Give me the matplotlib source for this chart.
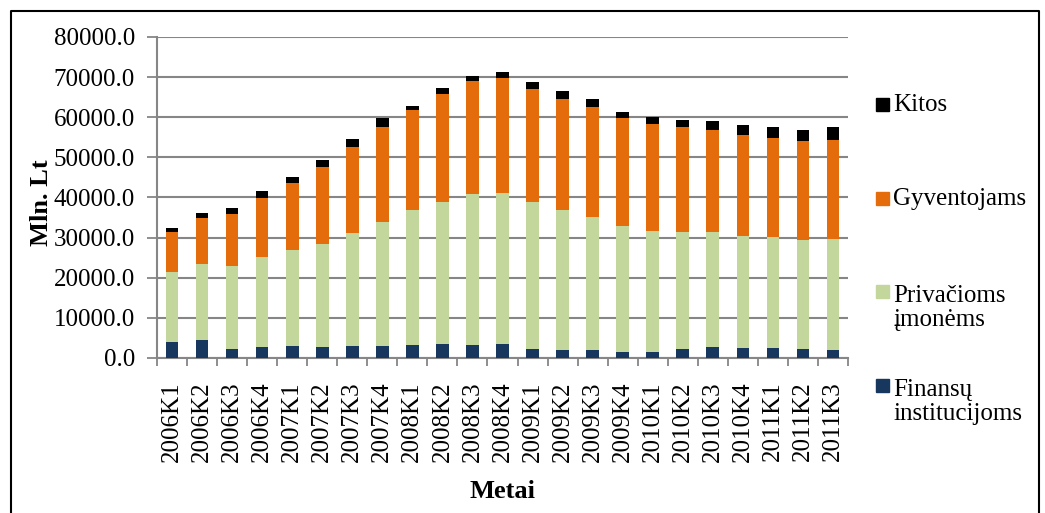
import matplotlib
matplotlib.use("Agg")
import matplotlib.pyplot as plt
from matplotlib.patches import Rectangle
from matplotlib.lines import Line2D
import numpy as np

plt.rcParams['font.family'] = ['Liberation Serif', 'DejaVu Serif']

categories = ["2006K1", "2006K2", "2006K3", "2006K4", "2007K1", "2007K2", "2007K3", "2007K4",
              "2008K1", "2008K2", "2008K3", "2008K4", "2009K1", "2009K2", "2009K3", "2009K4",
              "2010K1", "2010K2", "2010K3", "2010K4", "2011K1", "2011K2", "2011K3"]

finansu = [4000, 4500, 2250, 2750, 3000, 2750, 3000, 3000, 3250, 3500, 3250, 3580,
           2250, 2080, 2080, 1580, 1580, 2250, 2750, 2580, 2500, 2250, 2080]
privacioms = [17500, 19000, 20650, 22500, 23900, 25750, 28080, 31000, 33580, 35500, 37580, 37500,
              36580, 34750, 33000, 31250, 30170, 29250, 28580, 27920, 27670, 27080, 27500]
gyventojams = [9830, 11500, 13100, 14650, 16600, 19000, 21590, 23580, 25000, 26750, 28250, 28670,
               28250, 27840, 27500, 26920, 26500, 26170, 25590, 25080, 24750, 24670, 24670]
kitos = [1170, 1250, 1330, 1680, 1580, 1830, 1910, 2250, 1090, 1420, 1170, 1580,
         1750, 1910, 1920, 1670, 1750, 1660, 2080, 2590, 2580, 2750, 3250]

series = [("Finansų\ninstitucijoms", finansu, "#17375E"),
          ("Privačioms\nįmonėms", privacioms, "#C3D69B"),
          ("Gyventojams", gyventojams, "#E46C0A"),
          ("Kitos", kitos, "#000000")]

W, H = 1045, 513
fig = plt.figure(figsize=(W / 100, H / 100), dpi=100)
ax = fig.add_axes([157 / W, 1 - 358 / H, (848 - 157) / W, (358 - 37) / H])

x = np.arange(len(categories))
bottom = np.zeros(len(categories))
for name, vals, col in series:
    ax.bar(x, vals, width=0.42, bottom=bottom, color=col, label=name, zorder=3)
    bottom += np.array(vals)

ax.set_xlim(-0.5, len(categories) - 0.5)
ax.set_ylim(0, 80000)
yt = np.arange(0, 80001, 10000)
ax.set_yticks(yt)
ax.set_yticklabels([f"{v:.1f}" for v in yt], fontsize=18)
ax.yaxis.grid(True, color="#868686", linewidth=1.5, zorder=0)
ax.set_axisbelow(True)

ax.set_xticks(x)
ax.set_xticklabels(categories, rotation=90, fontsize=18)
ax.set_xticks(np.arange(-0.5, len(categories), 1), minor=True)
ax.tick_params(axis='x', which='major', length=0, pad=17)
ax.tick_params(axis='x', which='minor', length=6, color="#868686", width=1.3)
ax.tick_params(axis='y', length=7, color="#868686", width=1.3, pad=9)

for s in ["top", "right"]:
    ax.spines[s].set_visible(False)
for s in ["left", "bottom"]:
    ax.spines[s].set_color("#868686")
    ax.spines[s].set_linewidth(1.5)

ax.set_xlabel("Metai", fontsize=19, fontweight="bold")
ax.xaxis.label.set_va("center")
ax.xaxis.set_label_coords(0.5, (358 - 491) / 321)
ax.set_ylabel("Mln. Lt", fontsize=19, fontweight="bold")
ax.yaxis.label.set_va("center")
ax.yaxis.set_label_coords((41 - 157) / 691, (358 - 203) / 321)

# legend (manual, right side)
leg_items = [("Kitos", "#000000", 105), ("Gyventojams", "#E46C0A", 199),
             ("Privačioms\nįmonėms", "#C3D69B", 308), ("Finansų\ninstitucijoms", "#17375E", 402)]
for name, col, yc in leg_items:
    first_y = yc if "\n" not in name else yc - 16
    fig.patches.append(Rectangle((876 / W, 1 - (first_y + 6) / H), 13 / W, 13 / H,
                                 transform=fig.transFigure, color=col, figure=fig))
    fig.text(893 / W, 1 - yc / H, name, fontsize=18, va="center", ha="left", linespacing=1.15)

# outer border (left, top, right)
fig.lines.append(Line2D([11 / W, 11 / W, 1039 / W, 1039 / W], [0, 1 - 11 / H, 1 - 11 / H, 0],
                        transform=fig.transFigure, color="black", linewidth=1.5, figure=fig))

fig.savefig("out.png", dpi=100)
